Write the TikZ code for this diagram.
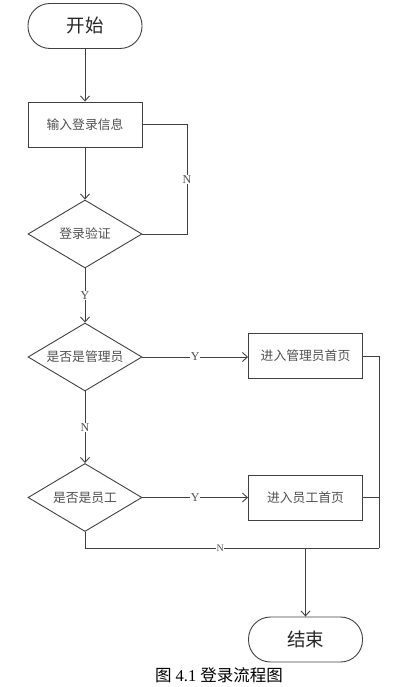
\documentclass[tikz,border=0pt]{standalone}
\usepackage{fontspec}
\setmainfont{Liberation Serif}
\newfontfamily\cjk{Noto Sans CJK SC}
\usetikzlibrary{shapes.geometric,arrows.meta}
\definecolor{ln}{HTML}{404040}
\definecolor{tx}{HTML}{505050}
\tikzset{
  base/.style={draw=ln, line width=0.9pt, text=tx, inner sep=0pt, font=\cjk\fontsize{12.8}{14}\selectfont},
  term/.style={base, rectangle, rounded corners=22pt, minimum width=114pt, minimum height=45pt, font=\cjk\fontsize{18.5}{20}\selectfont, text=black!85},
  procbox/.style={base, rectangle, minimum width=114pt, minimum height=45pt},
  decide/.style={base, diamond, aspect=1.68, minimum width=114pt, minimum height=68pt},
  conn/.style={draw=ln, line width=0.9pt},
  arr/.style={conn, -{Straight Barb[length=5pt,width=9pt]}},
  lab/.style={fill=white, inner sep=0.6pt, text=tx, font=\fontsize{12}{13}\selectfont},
}
\begin{document}
\begin{tikzpicture}[x=1pt, y=-1pt]
\useasboundingbox (0,0) rectangle (407,687);
\node[term] (start) at (85,26) {开始};
\node[procbox] (input) at (85,124.5) {输入登录信息};
\node[decide] (verify) at (85,234) {登录验证};
\node[decide] (admin) at (85,357) {是否是管理员};
\node[decide] (staff) at (85,497.5) {是否是员工};
\node[procbox] (adminhome) at (305.5,356) {进入管理员首页};
\node[procbox] (staffhome) at (305.5,497.5) {进入员工首页};
\node[term] (end) at (305.5,639.5) {结束};
\coordinate (loopx) at (187,0);
\coordinate (rb) at (379,548);
\coordinate (lb) at (85,548);

\draw[arr] (start) -- (input);
\draw[arr] (input) -- (verify);
\draw[conn] (verify.east) -| node[lab, pos=0.75] {N} (loopx |- input.east) -- (input.east);
\draw[arr] (verify) -- node[lab, pos=0.5] {Y} (admin);
\draw[arr] (admin) -- node[lab, pos=0.5] {N} (staff);
\draw[arr] (admin.east) -- node[lab, pos=0.5] {Y} (adminhome.west |- admin.east);
\draw[arr] (staff.east) -- node[lab, pos=0.5] {Y} (staffhome.west |- staff.east);
\draw[conn] (adminhome.east) -| (rb);
\draw[conn] (staffhome.east) -- (staffhome.east -| rb);
\draw[conn] (staff.south) -- (lb) -- node[lab, pos=0.46, font=\fontsize{10}{11}\selectfont] {N} (rb);
\draw[arr] (end.north |- rb) -- (end.north);
\node[font=\fontsize{16.5}{18}\selectfont, inner sep=0pt] (cap) at (219,675) {{\cjk 图} 4.1 {\cjk 登录流程图}};
\end{tikzpicture}
\end{document}
